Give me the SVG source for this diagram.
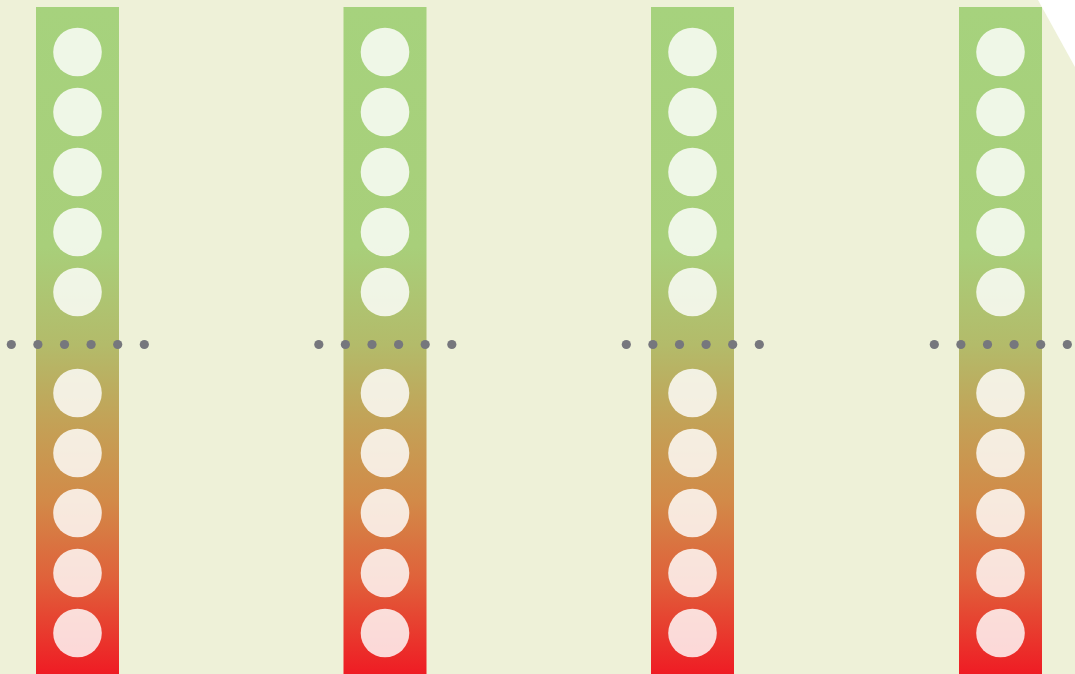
<svg xmlns="http://www.w3.org/2000/svg" xmlns:xlink="http://www.w3.org/1999/xlink" width="1075" height="674" viewBox="0 0 1075 674">
<defs>
<linearGradient id="g" gradientUnits="userSpaceOnUse" x1="0" y1="7" x2="0" y2="674">
<stop offset="0" stop-color="#A6D27D"/>
<stop offset="0.36" stop-color="#A8CF7A"/>
<stop offset="0.506" stop-color="#B3BB6A"/>
<stop offset="0.62" stop-color="#C3A257"/>
<stop offset="0.74" stop-color="#D28A48"/>
<stop offset="0.86" stop-color="#E0603A"/>
<stop offset="1" stop-color="#EF1C24"/>
</linearGradient>
<g id="col">
<rect x="0" y="7" width="83" height="667" fill="url(#g)"/>
<g class="c">
<circle cx="41.5" cy="52" r="24.3"/>
<circle cx="41.5" cy="112" r="24.3"/>
<circle cx="41.5" cy="172" r="24.3"/>
<circle cx="41.5" cy="232" r="24.3"/>
<circle cx="41.5" cy="292" r="24.3"/>
<circle cx="41.5" cy="393" r="24.3"/>
<circle cx="41.5" cy="453" r="24.3"/>
<circle cx="41.5" cy="513" r="24.3"/>
<circle cx="41.5" cy="573" r="24.3"/>
<circle cx="41.5" cy="633" r="24.3"/>
</g>
<g class="d">
<circle cx="-24.7" cy="344.5" r="4.6"/>
<circle cx="1.9" cy="344.5" r="4.6"/>
<circle cx="28.5" cy="344.5" r="4.6"/>
<circle cx="55.1" cy="344.5" r="4.6"/>
<circle cx="81.7" cy="344.5" r="4.6"/>
<circle cx="108.3" cy="344.5" r="4.6"/>
</g>
</g>
</defs>
<style>
.c circle{fill:#FFFFFF;fill-opacity:0.82}
.d circle{fill:#76777D}
</style>
<rect x="0" y="0" width="1075" height="674" fill="#EEF1D8"/>
<polygon points="1038,0 1075,0 1075,67" fill="#FFFFFF"/>
<g id="column1"><use xlink:href="#col" x="36" y="0"/></g>
<g id="column2"><use xlink:href="#col" x="343.5" y="0"/></g>
<g id="column3"><use xlink:href="#col" x="651" y="0"/></g>
<g id="column4"><use xlink:href="#col" x="959" y="0"/></g>
<g id="connectors"></g>
</svg>
